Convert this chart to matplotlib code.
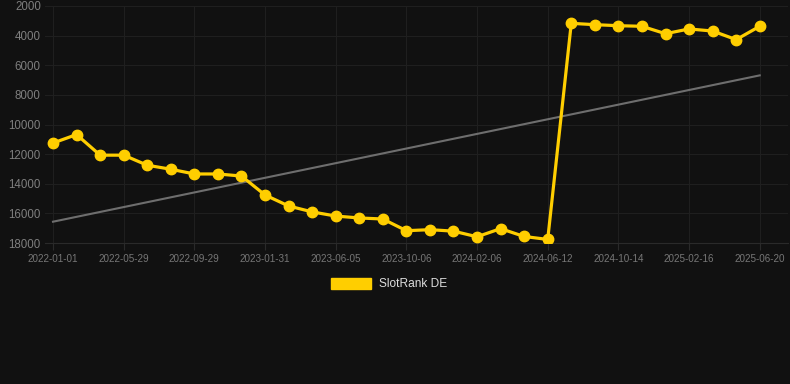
import numpy as np
from matplotlib import pyplot as plt

tick_labels = ["2022-01-01", "2022-05-29", "2022-09-29", "2023-01-31", "2023-06-05",
               "2023-10-06", "2024-02-06", "2024-06-12", "2024-10-14", "2025-02-16",
               "2025-06-20"]
rank = [11250, 10680, 12070, 12070, 12750, 13020, 13340, 13340, 13480, 14760,
        15500, 15900, 16180, 16310, 16380, 17170, 17100, 17200, 17580, 17030,
        17560, 17760, 3170, 3260, 3330, 3370, 3870, 3550, 3690, 4270, 3370]
y_ticks = [2000, 4000, 6000, 8000, 10000, 12000, 14000, 16000, 18000]

bg = "#111111"
grid = "#1f1f1f"
yellow = "#FFCE00"


def main():
    plt.rcParams["font.family"] = ["Liberation Sans", "DejaVu Sans"]
    fig = plt.figure(figsize=(7.9, 3.84), dpi=100, facecolor=bg)
    ax = fig.add_axes([45 / 790, 1 - 243 / 384, 743 / 790, 237 / 384], facecolor=bg)

    x = np.arange(len(rank))
    coef = np.polyfit(x, rank, 1)
    ax.plot(x, np.polyval(coef, x), color="#6e6e6e", lw=1.5, zorder=2)
    ax.plot(x, rank, color=yellow, lw=2.3, marker="o", ms=7.5, zorder=3,
            label="SlotRank DE")

    ax.set_ylim(18000, 2000)
    ax.set_xlim(-0.34, 31.2)
    ax.set_yticks(y_ticks)
    ax.set_xticks(x[::3])
    ax.set_xticklabels(tick_labels)
    ax.grid(True, color=grid, lw=0.8)
    for s in ax.spines.values():
        s.set_visible(False)
    ax.spines["bottom"].set_visible(True)
    ax.spines["bottom"].set_color("#2a2a2a")
    ax.spines["bottom"].set_linewidth(0.8)
    ax.tick_params(axis="y", length=0, labelsize=8.3, labelcolor="#7f7f7f", pad=3)
    ax.tick_params(axis="x", length=5, color="#2a2a2a", labelsize=7.1, labelcolor="#777777", pad=3)

    fig.legend(loc="center", bbox_to_anchor=(0.492, 1 - 284 / 384), frameon=False,
               handles=[plt.Rectangle((0, 0), 1, 1, color=yellow)],
               labels=["SlotRank DE"], handlelength=3.4, handleheight=1.1,
               handletextpad=0.6, fontsize=8.6, labelcolor="#dddddd")

    fig.savefig("out.png", dpi=100, facecolor=bg)


if __name__ == "__main__":
    main()
